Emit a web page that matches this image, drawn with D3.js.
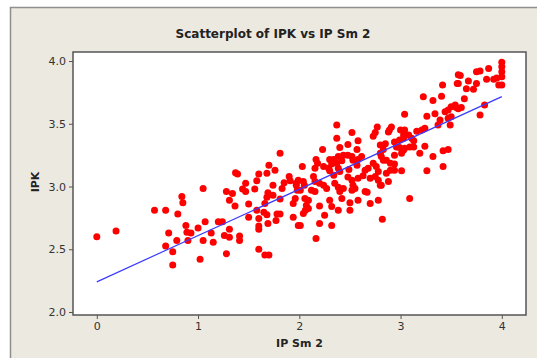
<!DOCTYPE html>
<html>
<head>
<meta charset="utf-8">
<script src="https://cdn.jsdelivr.net/npm/d3@7"></script>
<style>
  html, body { margin: 0; padding: 0; background: #fff; }
  svg { display: block; font-family: "DejaVu Sans", Verdana, sans-serif; }
</style>
</head>
<body>
<div id="chart"></div>
<script>
// scatterplot of IPK against IP Sm 2

const title = "Scatterplot of IPK vs IP Sm 2";
const xLabel = "IP Sm 2";
const yLabel = "IPK";
const xTicks = [0, 1, 2, 3, 4];
const yTicks = [2.0, 2.5, 3.0, 3.5, 4.0];

// IP Sm 2 values (x) and IPK values (y), same order
const ipSm2 = [
  0.00, 0.19, 0.57, 0.68, 0.84, 0.85, 0.80, 0.88, 0.71, 0.79,
  0.89, 0.93, 0.90, 1.00, 0.68, 0.75, 0.75, 1.02, 1.05, 1.07,
  1.05, 1.15, 1.13, 1.20, 1.24, 1.28, 1.34, 1.31, 1.365, 1.31,
  1.26, 1.31, 1.41, 1.41, 1.28, 1.37, 1.39, 1.44, 1.47, 1.47,
  1.50, 1.50, 1.56, 1.58, 1.60, 1.58, 1.60, 1.60, 1.60, 1.60,
  1.66, 1.70, 1.66, 1.68, 1.69, 1.68, 1.70, 1.76, 1.65, 1.68,
  1.69, 1.74, 1.74, 1.77, 1.78, 1.81, 1.81, 1.83, 1.85, 1.90,
  1.91, 1.94, 1.94, 1.96, 1.99, 1.97, 1.81, 1.97, 1.98, 2.01,
  2.37, 2.37, 2.52, 2.58, 2.48, 2.40, 2.23, 2.57, 2.165, 2.18,
  2.30, 2.34, 2.385, 2.42, 2.435, 2.48, 2.52, 2.53, 2.58, 2.615,
  2.73, 2.77, 2.75, 2.88, 2.80, 2.80, 2.83, 2.86, 2.03, 2.155,
  2.24, 2.29, 2.32, 2.37, 2.385, 2.40, 2.30, 2.34, 2.49, 2.57,
  2.65, 2.68, 2.73, 2.76, 2.78, 2.75, 2.78, 2.80, 2.70, 2.63,
  2.58, 2.86, 2.88, 2.48, 2.52, 1.99, 2.04, 2.05, 2.14, 2.155,
  2.12, 2.155, 2.24, 2.27, 2.35, 2.385, 2.40, 2.435, 2.53, 2.55,
  2.52, 2.65, 2.67, 2.78, 2.70, 2.58, 2.50, 2.50, 2.42, 2.385,
  2.30, 2.32, 2.20, 2.25, 2.055, 2.09, 2.07, 2.09, 2.04, 2.01,
  2.20, 2.32, 2.165, 2.82, 2.20, 2.06,
  3.57, 3.415, 3.225, 3.405, 3.32, 3.56, 3.54, 3.50, 3.47, 3.44,
  3.04, 3.26, 3.34, 3.39, 3.37, 3.47, 3.49, 2.91, 2.89, 3.00,
  3.04, 3.03, 3.08, 3.16, 3.21, 3.24, 2.94, 2.99, 3.03, 3.11,
  3.13, 2.85, 2.96, 2.99, 3.09, 3.13, 3.03, 3.04, 3.24, 3.19,
  3.01, 2.94, 3.32, 3.42, 3.47, 2.81, 2.83, 2.90, 2.94, 2.90,
  2.94, 3.01, 3.26, 3.42, 2.81, 3.09,
  4.00, 4.00, 4.00, 4.00, 4.00, 3.97, 3.95, 3.92, 3.87, 3.785,
  3.75, 3.85, 3.75, 3.72, 3.67, 3.59, 3.57, 3.65, 3.63, 3.55,
  3.57, 3.60, 3.83, 3.785, 3.50
];
const ipk = [
  2.60, 2.645, 2.81, 2.81, 2.92, 2.87, 2.78, 2.69, 2.63, 2.57,
  2.635, 2.63, 2.57, 2.67, 2.525, 2.48, 2.375, 2.42, 2.985, 2.72,
  2.57, 2.555, 2.63, 2.72, 2.72, 2.96, 2.945, 2.89, 2.845, 2.66,
  2.61, 2.595, 2.605, 2.57, 2.465, 3.11, 3.10, 2.98, 3.025, 2.96,
  2.86, 2.755, 2.98, 3.045, 3.10, 2.81, 2.745, 2.685, 2.66, 2.50,
  2.455, 2.455, 2.865, 2.915, 2.95, 3.105, 3.17, 3.13, 2.795, 2.775,
  2.705, 3.01, 2.93, 2.73, 2.78, 2.78, 2.90, 2.985, 3.03, 3.08,
  3.045, 2.865, 2.755, 2.905, 2.69, 3.01, 3.265, 3.025, 2.97, 2.97,
  3.49, 3.385, 3.43, 3.365, 3.335, 3.31, 3.295, 3.295, 3.215, 3.185,
  3.215, 3.215, 3.24, 3.205, 3.25, 3.25, 3.24, 3.21, 3.215, 3.24,
  3.40, 3.475, 3.43, 3.435, 3.33, 3.265, 3.295, 3.21, 3.16, 3.145,
  3.16, 3.145, 3.18, 3.185, 3.145, 3.12, 3.125, 3.09, 3.135, 3.17,
  3.13, 3.145, 3.185, 3.16, 3.12, 3.08, 3.05, 3.01, 3.065, 3.085,
  3.065, 3.105, 3.04, 3.075, 3.05, 3.05, 3.04, 3.01, 3.08, 3.04,
  2.97, 2.96, 3.01, 2.985, 3.025, 2.995, 2.96, 2.985, 3.01, 2.985,
  2.97, 2.96, 2.955, 2.89, 2.865, 2.89, 2.87, 2.81, 2.905, 2.81,
  2.89, 2.84, 2.845, 2.77, 2.905, 2.89, 2.85, 2.825, 2.785, 2.69,
  2.705, 2.69, 2.585, 2.74, 3.025, 2.81,
  3.89, 3.81, 3.715, 3.72, 3.685, 3.82, 3.65, 3.635, 3.61, 3.595,
  3.575, 3.56, 3.58, 3.53, 3.49, 3.545, 3.49, 3.475, 3.45, 3.45,
  3.45, 3.41, 3.41, 3.44, 3.45, 3.465, 3.355, 3.37, 3.385, 3.385,
  3.365, 3.34, 3.315, 3.31, 3.315, 3.315, 3.29, 3.305, 3.32, 3.265,
  3.265, 3.25, 3.24, 3.285, 3.295, 3.24, 3.21, 3.185, 3.18, 3.13,
  3.13, 3.125, 3.125, 3.16, 3.01, 2.905,
  3.99, 3.955, 3.915, 3.875, 3.81, 3.81, 3.865, 3.855, 3.94, 3.92,
  3.915, 3.855, 3.82, 3.775, 3.84, 3.885, 3.82, 3.78, 3.70, 3.63,
  3.62, 3.63, 3.65, 3.57, 3.555
];

// fitted regression line, ends
const fitX = [0, 4];
const fitY = [2.24, 3.716];

const W = 537, H = 358;
const frame = { left: 73, right: 526, top: 52, bottom: 315 };

const svg = d3.select("#chart").append("svg")
  .attr("width", W)
  .attr("height", H);

// outer panel
svg.append("rect")
  .attr("x", 10.5).attr("y", 7.5)
  .attr("width", W + 20).attr("height", H + 20)
  .attr("fill", "#ece9e0")
  .attr("stroke", "#8f8f8f")
  .attr("stroke-width", 1.5);

const x = d3.scaleLinear()
  .domain([-0.235, 4.239])
  .range([frame.left, frame.right]);
const y = d3.scaleLinear()
  .domain([1.976, 4.072])
  .range([frame.bottom, frame.top]);

// data area
svg.append("rect")
  .attr("x", frame.left).attr("y", frame.top)
  .attr("width", frame.right - frame.left)
  .attr("height", frame.bottom - frame.top)
  .attr("fill", "#fff")
  .attr("stroke", "#555")
  .attr("stroke-width", 1.5);

// axes
const xAxis = svg.append("g")
  .attr("transform", `translate(0,${frame.bottom})`)
  .call(d3.axisBottom(x).tickValues(xTicks).tickSize(4).tickPadding(3).tickFormat(d3.format("d")));
const yAxis = svg.append("g")
  .attr("transform", `translate(${frame.left},0)`)
  .call(d3.axisLeft(y).tickValues(yTicks).tickSize(4).tickPadding(3).tickFormat(d3.format(".1f")));

[xAxis, yAxis].forEach(g => {
  g.select(".domain").remove();
  g.selectAll(".tick line").attr("stroke", "#555");
  g.selectAll(".tick text")
    .attr("fill", "#333")
    .style("font-size", "11px")
    .style("font-family", "'DejaVu Sans', Verdana, sans-serif");
});

// points
const pts = ipSm2.map((v, i) => [v, ipk[i]]);
svg.append("g")
  .selectAll("circle")
  .data(pts)
  .enter()
  .append("circle")
  .attr("cx", d => x(d[0]))
  .attr("cy", d => y(d[1]))
  .attr("r", 3.5)
  .attr("fill", "#ff0000");

// fit line
svg.append("path")
  .datum(fitX.map((v, i) => [v, fitY[i]]))
  .attr("fill", "none")
  .attr("stroke", "#3a3aff")
  .attr("stroke-width", 1.2)
  .attr("d", d3.line().x(d => x(d[0])).y(d => y(d[1])));

// labels
svg.append("text")
  .attr("x", 273).attr("y", 38)
  .attr("text-anchor", "middle")
  .attr("fill", "#222")
  .style("font-size", "12px")
  .style("font-weight", "bold")
  .text(title);

svg.append("text")
  .attr("x", (frame.left + frame.right) / 2).attr("y", 347)
  .attr("text-anchor", "middle")
  .attr("fill", "#222")
  .style("font-size", "11px")
  .style("font-weight", "bold")
  .text(xLabel);

svg.append("text")
  .attr("transform", "translate(39,182) rotate(-90)")
  .attr("text-anchor", "middle")
  .attr("fill", "#222")
  .style("font-size", "11px")
  .style("font-weight", "bold")
  .text(yLabel);
</script>
</body>
</html>
